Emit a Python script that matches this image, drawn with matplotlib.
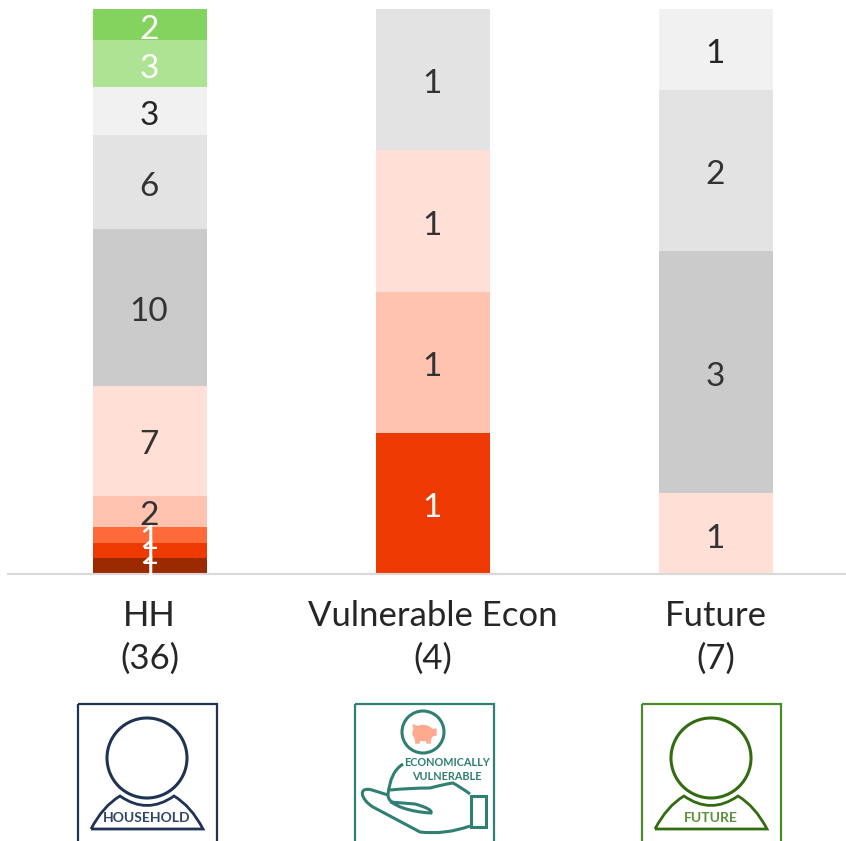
import numpy as np
import matplotlib
matplotlib.use('Agg')
import matplotlib.pyplot as plt
from matplotlib.patches import Circle, Ellipse, PathPatch, Rectangle, Polygon
from matplotlib.path import Path

plt.rcParams['font.family'] = ['Lato', 'DejaVu Sans']

# Data
groups = ['HH\n(36)', 'Vulnerable Econ\n(4)', 'Future\n(7)']
dark_red = [1, 0, 0]
red = [1, 1, 0]
orange = [1, 0, 0]
salmon = [2, 1, 0]
pink = [7, 1, 1]
grey = [10, 0, 3]
mid_grey = [6, 1, 2]
light_grey = [3, 0, 1]
light_green = [3, 0, 0]
green = [2, 0, 0]

series = [dark_red, red, orange, salmon, pink, grey, mid_grey, light_grey, light_green, green]
colors = ['#9C2A00', '#EE3A02', '#FF6A3A', '#FFC3B0', '#FFDFD6', '#CBCBCB', '#E3E3E3', '#F1F1F1', '#AEE393', '#84D35F']
label_colors = ['white', 'white', 'white', '#333333', '#333333', '#333333', '#333333', '#262626', 'white', 'white']

W, H = 846, 841
fig = plt.figure(figsize=(W / 100, H / 100), dpi=100)
ax = fig.add_axes([8 / W, 1 - 574 / H, 838 / W, 565 / H])

# 100% stacked bars
totals = np.sum(series, axis=0)
x = np.arange(len(groups))
bottom = np.zeros(len(groups))
for vals, col, lab_col in zip(series, colors, label_colors):
    vals = np.array(vals)
    share = vals / totals
    bars = ax.bar(x, share, 0.403, bottom=bottom, color=col)
    labels = [str(v) if v > 0 else '' for v in vals]
    texts = ax.bar_label(bars, labels=labels, label_type='center', color=lab_col, fontsize=24)
    # labels sit a little low in the original
    for t in texts:
        t.set_position((-0.5, -3.5))
    bottom += share

ax.set_xlim(-0.5, 2.46)
ax.set_ylim(0, 1)
ax.set_yticks([])
ax.set_xticks(x)
ax.set_xticklabels(groups, fontsize=25, color='#262626', linespacing=1.42)
ax.tick_params(axis='x', length=0, pad=18.5)
for side in ['top', 'left', 'right']:
    ax.spines[side].set_visible(False)
ax.spines['bottom'].set_color('#D9D9D9')
ax.spines['bottom'].set_linewidth(1.5)

# Icons below the chart, drawn in pixel coordinates
icons = fig.add_axes([0, 0, 1, 1], zorder=3)
icons.set_xlim(0, W)
icons.set_ylim(H, 0)
icons.axis('off')
icons.patch.set_alpha(0)


def line_path(verts, codes, color, lw=2.0):
    icons.add_patch(PathPatch(Path(verts, codes), fill=False, ec=color, lw=lw))


def person_icon(left, cx, box_color, color, text, text_color):
    icons.add_patch(Rectangle((left, 704), 139, 160, fill=False, ec=box_color, lw=1.6))
    icons.add_patch(Circle((cx, 758), 40, fill=False, ec=color, lw=2.2))
    verts = [(cx - 56, 829), (cx - 44, 806), (cx - 27, 796),
             (cx, 815), (cx + 27, 796),
             (cx + 44, 806), (cx + 56, 829), (cx - 56, 829)]
    codes = [Path.MOVETO, Path.CURVE3, Path.CURVE3, Path.CURVE3, Path.CURVE3, Path.CURVE3, Path.CURVE3, Path.LINETO]
    line_path(verts, codes, color)
    icons.text(cx, 818, text, color=text_color, fontsize=10, fontweight='bold', ha='center', va='center')


person_icon(78, 147, '#1F3354', '#1F3354', 'HOUSEHOLD', '#2F4568')
person_icon(642, 711, '#4A8A2A', '#336B10', 'FUTURE', '#5A9038')

# Economically vulnerable icon
teal = '#2F7F73'
pig = '#FFA98F'
icons.add_patch(Rectangle((355, 704), 139, 160, fill=False, ec=teal, lw=1.6))
icons.add_patch(Circle((423, 732), 21, fill=False, ec=teal, lw=2.2))
icons.add_patch(Ellipse((423, 733), 20, 15, color=pig))
icons.add_patch(Polygon([(415, 737), (420, 737), (419, 743), (416, 743)], color=pig))
icons.add_patch(Polygon([(426, 737), (431, 737), (430, 743), (427, 743)], color=pig))
icons.add_patch(Polygon([(430, 730), (436, 729), (436, 735), (431, 736)], color=pig))
icons.add_patch(Polygon([(413, 725), (419, 727), (415, 731)], color=pig))
icons.text(447, 763, 'ECONOMICALLY', color=teal, fontsize=7.8, fontweight='bold', ha='center', va='center')
icons.text(447, 776, 'VULNERABLE', color=teal, fontsize=7.8, fontweight='bold', ha='center', va='center')

M, L, C3, C4 = Path.MOVETO, Path.LINETO, Path.CURVE3, Path.CURVE4
# arc from the text down to the thumb
line_path([(403, 764), (390, 772), (388, 795)], [M, C3, C3], teal, 2.2)
# top of the hand
line_path([(390, 790), (410, 788), (430, 788), (445, 784), (453, 783), (462, 788), (470, 794)],
          [M, C3, C3, C3, C3, C3, C3], teal, 2.2)
# thumb and bottom of the hand
line_path([(388, 795), (372, 790), (358, 786), (360, 799), (373, 807), (420, 832), (445, 835), (470, 826)],
          [M, L, C4, C4, C4, L, C3, C3], teal, 2.2)
# finger
line_path([(388, 795), (388, 806), (412, 812), (431, 813), (433, 809), (415, 804), (390, 802)],
          [M, C4, C4, C4, C3, C3, L], teal, 2.2)
icons.add_patch(Rectangle((471, 796), 15, 31, fill=False, ec=teal, lw=2.2))

fig.savefig('out.png', dpi=100)
